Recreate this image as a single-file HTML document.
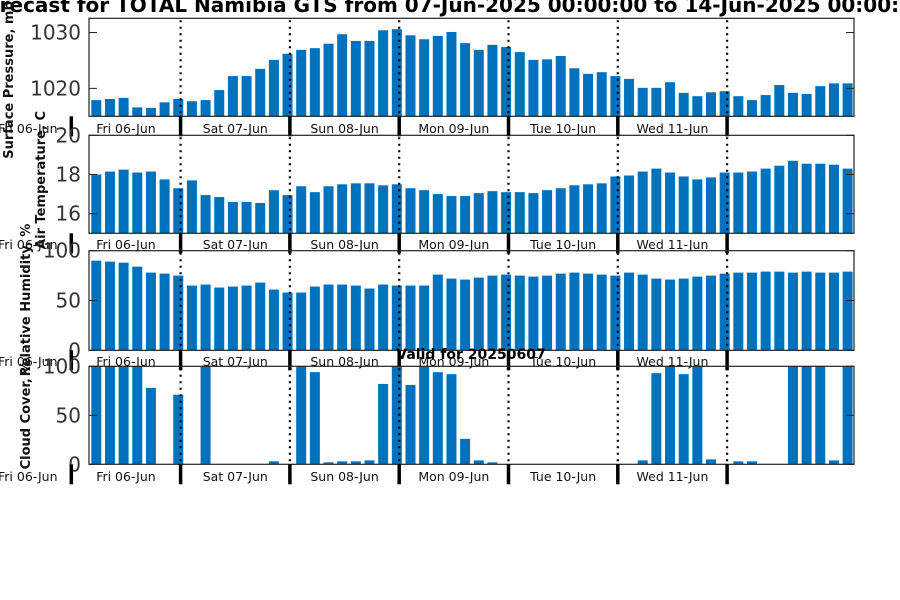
<!DOCTYPE html>
<html><head><meta charset="utf-8"><style>
html,body{margin:0;padding:0;background:#fff;overflow:hidden}
svg{display:block;font-family:"DejaVu Sans","Liberation Sans",sans-serif}
</style></head><body>
<svg id="chart" width="900" height="600" viewBox="0 0 900 600">
<text x="450" y="12" text-anchor="middle" font-size="20" font-weight="bold" fill="#000">Forecast for TOTAL Namibia GTS from 07-Jun-2025 00:00:00 to 14-Jun-2025 00:00:00</text>
<g id="plots"></g>
<text x="471" y="359" text-anchor="middle" font-size="14" font-weight="bold" fill="#000">Valid for 20250607</text>
</svg>
<script>
const dayLabels=["Fri 06-Jun","Sat 07-Jun","Sun 08-Jun","Mon 09-Jun","Tue 10-Jun","Wed 11-Jun"];
const pressure=[1017.9,1018.1,1018.3,1016.6,1016.5,1017.5,1018.1,1017.7,1017.9,1019.7,1022.2,1022.2,1023.5,1025.1,1026.2,1026.9,1027.2,1028.0,1029.7,1028.5,1028.5,1030.4,1030.6,1029.5,1028.8,1029.4,1030.1,1028.1,1026.9,1027.8,1027.4,1026.5,1025.1,1025.2,1025.8,1023.6,1022.6,1022.9,1022.2,1021.7,1020.1,1020.1,1021.1,1019.2,1018.6,1019.3,1019.5,1018.6,1017.9,1018.8,1020.6,1019.2,1019.0,1020.4,1020.9,1020.9];
const temperature=[18.0,18.15,18.25,18.1,18.15,17.75,17.3,17.7,16.95,16.85,16.6,16.6,16.55,17.2,16.95,17.4,17.1,17.4,17.5,17.55,17.55,17.45,17.5,17.3,17.2,17.0,16.9,16.9,17.05,17.15,17.1,17.1,17.05,17.2,17.3,17.45,17.5,17.55,17.9,17.95,18.15,18.3,18.1,17.9,17.75,17.85,18.1,18.1,18.15,18.3,18.45,18.7,18.55,18.55,18.5,18.3];
const humidity=[90,89,88,84,78,77,75,65,66,63,64,65,68,61,58,58,64,66,66,65,62,66,65,65,65,76,72,71,73,75,76,75,74,75,77,78,77,76,75,78,76,72,71,72,74,75,77,78,78,79,79,78,79,78,78,79];
const cloud=[100,100,100,100,78,0,71,0,100,0,0,0,0,3,0,100,94,2,3,3,4,82,100,81,100,94,92,26,4,2,0,0,0,0,0,0,0,0,0,0,4,93,100,92,100,5,0,3,3,0,0,100,100,100,4,100];
const pTicks=[1020,1030], tTicks=[16,18,20], hTicks=[0,50,100], cTicks=[0,50,100];

const NS="http://www.w3.org/2000/svg";
const root=document.getElementById('plots');
const X0=89, X1=854, BAR0=96.3, STEP=13.66, BW=10, DAY0=71.3, DAYW=109.3;
function xBar(i){return BAR0+STEP*i;}
function xDay(d){return DAY0+DAYW*d;}
function mk(tag,attrs,parent){const e=document.createElementNS(NS,tag);for(const k in attrs)e.setAttribute(k,attrs[k]);(parent||root).appendChild(e);return e;}

const panels=[
 {name:'pressure',data:pressure,ticks:pTicks,top:18.3,bot:116.3,min:1015,max:1032.55,label:'Surface Pressure, mb',lx:13,ly:80,lblY:133},
 {name:'temperature',data:temperature,ticks:tTicks,top:135.3,bot:233.3,min:15,max:20,label:'Air Temperature, C',lx:45,ly:180,lblY:249},
 {name:'humidity',data:humidity,ticks:hTicks,top:250.7,bot:350.3,min:0,max:100,label:'Relative Humidity, %',lx:30,ly:300,lblY:366},
 {name:'cloud-cover',data:cloud,ticks:cTicks,top:366.3,bot:464.3,min:0,max:100,label:'Cloud Cover, %',lx:30,ly:415,lblY:481}
];

panels.forEach(p=>{
  const g=mk('g',{});
  
  
  const y=v=>p.bot-(v-p.min)/(p.max-p.min)*(p.bot-p.top);
  p.data.forEach((v,i)=>{
    const yt=Math.max(p.top,y(v));
    const r=mk('rect',{x:xBar(i)-BW/2,y:yt,width:BW,height:Math.max(0,p.bot-yt),fill:'#0072bd'},g);
    
    
  });
  for(let d=1;d<=6;d++){
    const l=mk('line',{x1:xDay(d),x2:xDay(d),y1:p.top+2,y2:p.bot,stroke:'#000','stroke-width':2.2,'stroke-dasharray':'2 4.5'},g);
    
    
  }
  const f=mk('rect',{x:X0,y:p.top,width:X1-X0,height:p.bot-p.top,fill:'none',stroke:'#222','stroke-width':1.2},g);
  
  
  p.ticks.forEach(t=>{
    const yy=y(t);
    mk('line',{x1:X0,x2:X0+8,y1:yy,y2:yy,stroke:'#222'},g);
    mk('line',{x1:X1-8,x2:X1,y1:yy,y2:yy,stroke:'#222'},g);
    const tx=mk('text',{x:X0-8,y:yy+7,'text-anchor':'end','font-size':20,fill:'#333'},g);
    tx.textContent=t;
    
    
  });
  for(let d=0;d<=6;d++){
    mk('line',{x1:xDay(d),x2:xDay(d),y1:p.bot,y2:p.bot+20,stroke:'#000','stroke-width':3.5},g);
  }
  dayLabels.forEach((s,d)=>{
    const tx=mk('text',{x:xDay(d)+DAYW/2,y:p.lblY,'text-anchor':'middle','font-size':12.5,fill:'#111'},g);
    tx.textContent=s;
    
    
  });
  const lt=mk('text',{x:-2,y:p.lblY,'font-size':12.5,fill:'#111'},g);
  lt.textContent='Fri 06-Jun';
  
  
  const yl=mk('text',{x:p.lx,y:p.ly,'text-anchor':'middle','font-size':13,'font-weight':'bold',fill:'#111',transform:`rotate(-90 ${p.lx} ${p.ly})`},g);
  yl.textContent=p.label;
  
  
});
</script>
</body></html>
